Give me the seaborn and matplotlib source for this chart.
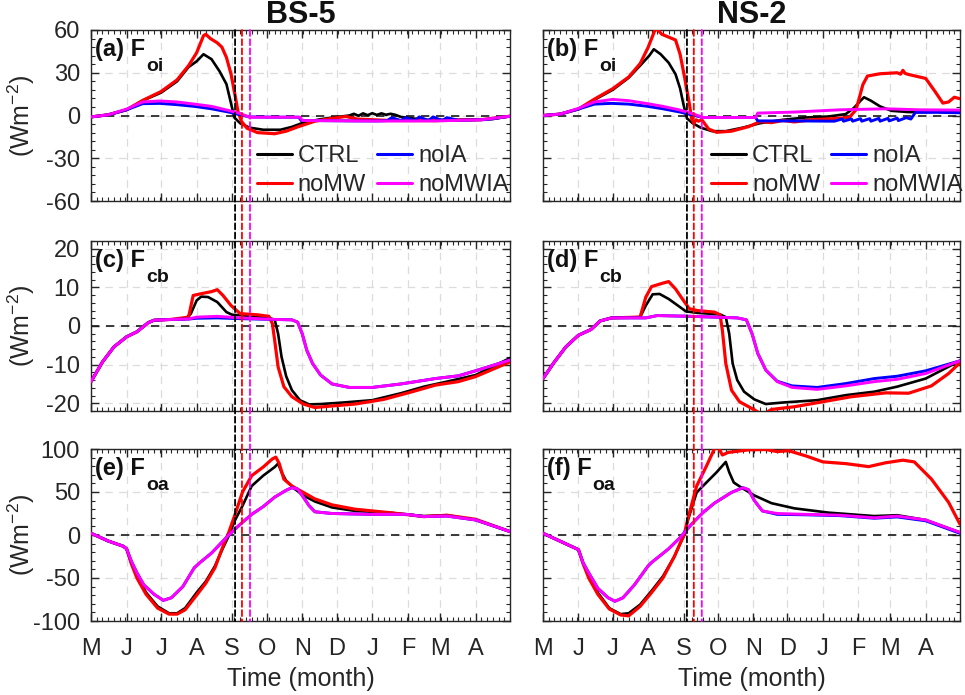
import numpy as np
import pandas as pd
import matplotlib
matplotlib.use("Agg")
import matplotlib.pyplot as plt
from matplotlib.patches import ConnectionPatch
from matplotlib.lines import Line2D
from matplotlib.ticker import MultipleLocator, FixedLocator
import seaborn as sns

# ---------------- data (days since 1 May) ----------------
month_ticks = [0, 31, 61, 92, 123, 153, 184, 214, 245, 276, 304, 335]
month_labels = ["M", "J", "J", "A", "S", "O", "N", "D", "J", "F", "M", "A"]
series_names = ["CTRL", "noMW", "noIA", "noMWIA"]
series_colors = ["#000000", "#ff0000", "#0000ff", "#ff00ff"]
column_titles = ["BS-5", "NS-2"]
panel_main = ["(a) F", "(b) F", "(c) F", "(d) F", "(e) F", "(f) F"]
panel_sub = ["oi", "oi", "cb", "cb", "oa", "oa"]
vline_days_left = [125.5, 131.5, 138.5]
vline_days_right = [126.0, 132.0, 139.0]
vline_colors = ["#000000", "#ff0000", "#ff00ff"]

# ---- (a) F_oi BS-5
a_ctrl_d = [0, 15, 31, 45, 61, 75, 85, 92, 98, 105, 112, 118, 123, 125, 130, 138, 150, 165, 175, 185, 200, 215, 225, 229, 233, 237, 241, 245, 249, 253, 257, 261, 265, 270, 275, 290, 320, 350, 365]
a_ctrl_v = [-1, 0.5, 4, 10.4, 16, 24, 34, 38, 43, 39.5, 31, 22, 5, -1.5, -5.5, -8.5, -10, -10, -8, -5, -2.6, -1, 0, 1.2, -0.2, 1.5, 0.2, 1.6, 0.4, 1.5, 0.5, 1.2, 0.5, -1, -1.5, -3, -3, -2.5, -0.5]
a_nomw_d = [0, 15, 31, 45, 61, 75, 85, 92, 98, 100, 104, 110, 114, 118, 122, 126, 128, 131, 136, 145, 160, 170, 180, 195, 210, 222, 232, 260, 300, 340, 365]
a_nomw_v = [-1, 0.5, 4, 10.6, 16.8, 25, 35, 44, 56, 57, 54, 51, 48, 40.7, 29, 12, 3, -4, -9, -12, -12.8, -11, -8, -4, -2, -0.7, -2.5, -3.5, -3.6, -3, -0.5]
a_noia_d = [0, 15, 31, 45, 60, 75, 90, 105, 120, 130, 138, 160, 181, 183, 200, 230, 250, 258, 262, 270, 274, 282, 286, 294, 298, 306, 310, 320, 330, 345, 365]
a_noia_v = [-1, 0.5, 4, 8.3, 8.5, 7.6, 6.4, 4.7, 2.4, 0.5, -1, -1.2, -1.2, -3.5, -3.6, -3.8, -3.8, -3.6, -1.5, -3.6, -1.5, -3.6, -1.0, -3.6, -1.0, -3.6, -1.5, -3.4, -3.2, -2.8, -0.5]
a_nomwia_d = [0, 15, 31, 45, 60, 75, 90, 105, 120, 130, 138, 160, 182, 184, 200, 250, 300, 340, 365]
a_nomwia_v = [-1, 0.5, 4.5, 9.5, 10.2, 9.5, 8, 6.4, 3.5, 1.4, -1.2, -1.2, -1.2, -3.5, -3.6, -3.9, -3.8, -3.0, -0.5]

# ---- (b) F_oi NS-2
b_ctrl_d = [0, 15, 31, 45, 61, 75, 85, 93, 97, 103, 110, 116, 120, 123, 126, 131, 138, 148, 160, 175, 190, 210, 230, 250, 265, 272, 278, 281, 287, 295, 305, 320, 335, 350, 365]
b_ctrl_v = [0, 1, 4.5, 11, 18, 26.5, 35, 42, 46.5, 43, 37, 29, 19, 7.6, -2, -5.4, -8.5, -11, -11, -8.5, -5.4, -3, -1.4, -0.7, 1, 5.2, 10.4, 12.8, 10.4, 6.4, 3.3, 2.4, 2.4, 3.0, 3.5]
b_nomw_d = [0, 15, 31, 45, 61, 75, 85, 92, 98, 100, 104, 110, 116, 120, 124, 128, 130, 132, 134, 136, 139, 145, 152, 165, 180, 190, 200, 210, 220, 235, 250, 268, 274, 280, 284, 295, 310, 313, 315, 317, 320, 335, 343, 350, 355, 360, 365]
b_nomw_v = [0, 1, 4.5, 11.5, 18.8, 27, 36.4, 47.8, 60, 60.5, 57, 55, 53, 43, 26.5, 8.7, -2, -5.4, -3, -4, -3, -9.5, -11.8, -11, -7.8, -4.3, -5, -3.5, -4.5, -3, -2.4, -1.4, 4, 21.7, 27.7, 29.3, 30, 29, 31.7, 29.5, 28.8, 26, 17, 8.7, 9.5, 12.8, 11.8]
b_noia_d = [0, 15, 31, 45, 60, 75, 90, 105, 120, 130, 140, 186, 188, 220, 255, 262, 263, 270, 271, 278, 279, 286, 287, 294, 295, 302, 303, 310, 311, 318, 322, 326, 345, 365]
b_noia_v = [0, 1, 4.5, 8, 8.5, 8, 6.6, 4.7, 2.4, 0.5, -1.4, -1.4, -3.8, -3.8, -4.0, -2.4, -4.0, -2.4, -4.0, -2.2, -4.0, -2.2, -4.0, -2.0, -4.0, -2.0, -3.8, -1.8, -3.6, -1.5, -2.5, 2.2, 2.2, 1.9]
b_nomwia_d = [0, 15, 31, 45, 61, 75, 90, 105, 120, 132, 140, 186, 188, 220, 260, 300, 330, 365]
b_nomwia_v = [0, 1, 5, 9.5, 11.3, 10.4, 8.5, 6.4, 3.8, 1, -1.4, -1.4, 1.7, 2.4, 4, 4.7, 4.0, 3.8]

# ---- (c) F_cb BS-5
c_ctrl_d = [0, 10, 20, 31, 40, 45, 50, 55, 70, 82, 87, 92, 96, 102, 110, 118, 123, 140, 155, 160, 163, 166, 170, 175, 182, 190, 200, 220, 245, 270, 290, 310, 335, 365]
c_ctrl_v = [-14.4, -9.3, -5.4, -2.8, -1.5, -0.3, 0.9, 1.5, 1.7, 1.8, 3.2, 6.6, 7.6, 7.5, 6.2, 3.6, 2.9, 2.6, 2.1, 1.6, -2, -8, -13, -16.6, -19.2, -20.3, -20.2, -19.8, -19.2, -17.4, -15.7, -14.4, -12.7, -8.3]
c_nomw_d = [0, 10, 20, 31, 40, 45, 50, 55, 70, 85, 89, 95, 105, 110, 115, 122, 130, 145, 155, 158, 160, 163, 168, 175, 185, 195, 210, 230, 255, 280, 300, 320, 335, 365]
c_nomw_v = [-14.4, -9.3, -5.4, -2.8, -1.5, -0.3, 0.9, 1.5, 1.7, 2.3, 7.9, 8.3, 8.9, 9.4, 7.9, 5.3, 3.2, 2.9, 2.5, 0.6, -3.7, -10.6, -15.7, -18.3, -20.2, -21.1, -20.7, -20.2, -19, -17, -15.3, -14.4, -13.1, -9.3]
c_noia_d = [0, 10, 20, 31, 40, 45, 50, 55, 70, 85, 92, 110, 130, 160, 175, 180, 184, 188, 193, 200, 210, 225, 245, 270, 300, 320, 335, 365]
c_noia_v = [-14.4, -9.3, -5.4, -2.8, -1.5, -0.3, 0.9, 1.5, 1.7, 1.8, 2.0, 2.1, 1.9, 1.7, 1.6, 1.0, -2, -6.3, -9.7, -12.7, -15, -15.9, -15.9, -15, -13.6, -12.9, -11.6, -8.8]
c_nomwia_d = [0, 10, 20, 31, 40, 45, 50, 55, 70, 85, 92, 110, 130, 160, 175, 180, 184, 188, 193, 200, 210, 225, 245, 270, 300, 320, 335, 365]
c_nomwia_v = [-14.4, -9.3, -5.4, -2.8, -1.5, -0.3, 0.9, 1.5, 1.7, 1.8, 2.3, 2.5, 2.1, 1.7, 1.6, 1.0, -2, -6.3, -9.7, -12.7, -15, -15.9, -15.9, -15, -13.6, -12.9, -11.6, -8.8]

# ---- (d) F_cb NS-2
d_ctrl_d = [0, 10, 20, 31, 42, 50, 60, 85, 90, 96, 102, 110, 118, 125, 135, 155, 160, 163, 166, 170, 176, 185, 195, 210, 240, 265, 290, 310, 335, 365]
d_ctrl_v = [-13.6, -9.3, -5.4, -2.4, -0.9, 1.3, 2.1, 2.3, 5.3, 8.2, 8.3, 7, 5.3, 3.8, 3.4, 3, 2.3, -2, -9.7, -14, -17, -19, -20.2, -19.8, -19.2, -17.9, -17, -15.7, -13.6, -9]
d_nomw_d = [0, 10, 20, 31, 42, 50, 60, 85, 90, 95, 105, 110, 116, 122, 128, 135, 150, 155, 157, 160, 165, 172, 185, 192, 200, 220, 245, 270, 300, 320, 340, 355, 365]
d_nomw_v = [-13.6, -9.3, -5.4, -2.4, -0.9, 1.3, 2.1, 2.3, 7.5, 10.2, 11.1, 11.5, 9.6, 7, 4.5, 4, 3.6, 2.9, -1.1, -9.7, -16.6, -19.6, -21.7, -23, -21.6, -20.9, -19.6, -18.3, -17.3, -17.4, -15.5, -12.3, -9.5]
d_noia_d = [0, 10, 20, 31, 42, 50, 60, 90, 100, 130, 170, 178, 183, 188, 195, 205, 218, 240, 265, 290, 310, 335, 365]
d_noia_v = [-13.6, -9.3, -5.4, -2.4, -0.9, 1.3, 2.1, 2.1, 2.7, 2.5, 2.1, 1.6, -2, -7.1, -11.4, -14.3, -15.5, -15.9, -14.9, -13.6, -13.0, -11.6, -9]
d_nomwia_d = [0, 10, 20, 31, 42, 50, 60, 90, 100, 130, 170, 178, 183, 188, 195, 205, 218, 240, 265, 290, 310, 335, 365]
d_nomwia_v = [-13.6, -9.3, -5.4, -2.4, -0.9, 1.3, 2.1, 2.1, 2.7, 2.5, 2.1, 1.6, -2, -7.1, -11.4, -14.4, -15.9, -16.4, -15.5, -14.4, -13.8, -12.3, -9]

# ---- (e) F_oa BS-5
e_ctrl_d = [0, 15, 28, 31, 35, 40, 48, 58, 68, 75, 82, 92, 100, 108, 115, 120, 125, 132, 140, 150, 160, 163, 166, 170, 178, 185, 195, 210, 230, 260, 290, 310, 335, 365]
e_ctrl_v = [2, -7, -13, -16, -32, -48, -67, -83, -91, -91, -85, -67, -54, -36, -15, -1, 16, 34, 57, 69, 79, 83, 73, 63, 53, 46, 39, 32, 28, 26, 22, 23, 17.5, 4]
e_nomw_d = [0, 15, 28, 31, 35, 40, 48, 58, 68, 75, 82, 92, 100, 108, 115, 120, 125, 132, 140, 150, 158, 161, 164, 168, 175, 185, 195, 210, 230, 260, 290, 310, 335, 365]
e_nomw_v = [2, -7, -13, -16, -33, -50, -69, -85, -92, -92, -87, -70, -56, -38, -13, 3, 22, 50, 69, 79, 88.5, 90.5, 83, 65, 57, 49.5, 42, 35, 30, 26, 21.4, 23, 18.3, 4]
e_noia_d = [0, 15, 28, 31, 35, 40, 46, 55, 63, 70, 80, 90, 95, 105, 115, 120, 130, 140, 150, 160, 170, 175, 180, 185, 190, 195, 210, 245, 275, 290, 310, 335, 365]
e_noia_v = [2, -7, -13, -16, -30, -44, -58, -69, -76, -73, -60, -38, -32, -21, -7, 0, 12.5, 24, 33, 44, 52, 55, 53.4, 44, 34, 27, 25, 24, 24, 21.4, 22, 17.5, 4]
e_nomwia_d = [0, 15, 28, 31, 35, 40, 46, 55, 63, 70, 80, 90, 95, 105, 115, 120, 130, 140, 150, 160, 170, 175, 180, 185, 190, 195, 210, 245, 275, 290, 310, 335, 365]
e_nomwia_v = [2, -7, -13, -16, -30, -44, -58, -69, -76, -73, -60, -38, -32, -21, -7, 0, 12.5, 24, 33, 44, 52, 55, 53.4, 44, 34, 27, 25, 24, 24, 21.4, 22, 17.5, 4]

# ---- (f) F_oa NS-2
f_ctrl_d = [0, 31, 35, 40, 48, 58, 68, 75, 85, 95, 105, 115, 120, 123.5, 127, 134.5, 143, 152, 160, 163, 167, 175, 185, 200, 220, 250, 290, 310, 335, 365]
f_ctrl_v = [2, -17, -32, -48, -67, -85, -92, -91, -81, -65, -48, -25, -10, 0, 18, 49.5, 61, 73, 85, 73, 61, 54, 46, 37, 31, 26, 22, 23, 17.5, 3]
f_nomw_d = [0, 31, 35, 40, 48, 58, 68, 75, 85, 95, 105, 115, 120, 123.5, 127, 134.5, 143, 150, 153, 157, 162, 180, 195, 205, 215, 230, 245, 265, 285, 300, 315, 325, 340, 355, 365]
f_nomw_v = [2, -17, -33, -50, -69, -86, -93, -94, -83, -67, -50, -25, -10, 0, 20, 57, 80, 100, 103, 93, 96, 99, 99.4, 97, 98, 92, 85, 83, 79.5, 84, 87, 85, 65, 38, 12.5]
f_noia_d = [0, 31, 35, 40, 48, 57, 63, 70, 80, 92, 95, 110, 120, 130, 140, 150, 165, 175, 180, 185, 192, 205, 230, 260, 290, 310, 335, 365]
f_noia_v = [2, -17, -32, -44, -62, -73, -77, -73, -58, -36, -32, -16, -3, 12.5, 26, 37, 49.5, 55, 52.6, 40, 28, 24, 23.5, 22.5, 19.5, 21, 16.5, 2]
f_nomwia_d = [0, 31, 35, 40, 48, 57, 63, 70, 80, 92, 95, 110, 120, 130, 140, 150, 165, 175, 180, 185, 192, 205, 230, 260, 290, 310, 335, 365]
f_nomwia_v = [2, -17, -32, -44, -62, -73, -77, -73, -58, -36, -32, -16, -3, 12.5, 26, 37, 49.5, 55, 52.6, 40, 28, 25, 24, 23, 20, 22, 17.5, 3]

panels = [
    [(a_ctrl_d, a_ctrl_v), (a_nomw_d, a_nomw_v), (a_noia_d, a_noia_v), (a_nomwia_d, a_nomwia_v)],
    [(b_ctrl_d, b_ctrl_v), (b_nomw_d, b_nomw_v), (b_noia_d, b_noia_v), (b_nomwia_d, b_nomwia_v)],
    [(c_ctrl_d, c_ctrl_v), (c_nomw_d, c_nomw_v), (c_noia_d, c_noia_v), (c_nomwia_d, c_nomwia_v)],
    [(d_ctrl_d, d_ctrl_v), (d_nomw_d, d_nomw_v), (d_noia_d, d_noia_v), (d_nomwia_d, d_nomwia_v)],
    [(e_ctrl_d, e_ctrl_v), (e_nomw_d, e_nomw_v), (e_noia_d, e_noia_v), (e_nomwia_d, e_nomwia_v)],
    [(f_ctrl_d, f_ctrl_v), (f_nomw_d, f_nomw_v), (f_noia_d, f_noia_v), (f_nomwia_d, f_nomwia_v)],
]
row_ylims = [(-60, 60), (-22, 22), (-100, 100)]
row_yticks = [[-60, -30, 0, 30, 60], [-20, -10, 0, 10, 20], [-100, -50, 0, 50, 100]]
row_minor = [6, 2, 10]

# ---------------- style ----------------
sns.set_theme(style="ticks")
plt.rcParams["font.family"] = ["Liberation Sans", "DejaVu Sans"]
plt.rcParams["mathtext.fontset"] = "custom"
plt.rcParams["mathtext.rm"] = "Liberation Sans"
plt.rcParams["mathtext.bf"] = "Liberation Sans:bold"
plt.rcParams["mathtext.default"] = "regular"
plt.rcParams["axes.unicode_minus"] = False
plt.rcParams["axes.edgecolor"] = "#262626"
plt.rcParams["axes.linewidth"] = 1.0

fig = plt.figure(figsize=(9.65, 6.95), dpi=100)
col_left = [91 / 965, 543 / 965]
col_width = [419 / 965, 417 / 965]
row_bottom = [1 - 201 / 695, 1 - 411 / 695, 1 - 621 / 695]
row_height = [171 / 695, 170 / 695, 172 / 695]
legend_x = [0.395, 0.402]

axes = {}
tick_fs = 17
label_fs = 18
txt_col = "#262626"
palette = dict(zip(series_names, series_colors))
lws = {"CTRL": 1.9, "noMW": 2.3, "noIA": 2.1, "noMWIA": 2.1}

for r in range(3):
    for c in range(2):
        idx = r * 2 + c
        ax = fig.add_axes([col_left[c], row_bottom[r], col_width[c], row_height[r]])
        axes[(r, c)] = ax
        rows = []
        for name, (dd, vv) in zip(series_names, panels[idx]):
            for x, y in zip(dd, vv):
                rows.append({"day": x, "value": y, "run": name})
        df = pd.DataFrame(rows)
        for name in series_names:
            sub = df[df["run"] == name]
            sns.lineplot(data=sub, x="day", y="value", color=palette[name],
                         lw=lws[name], estimator=None, sort=False, ax=ax,
                         legend=False, zorder=3)
        ax.axhline(0, color="k", ls=(0, (5, 4)), lw=1.2, zorder=2)
        ax.set_xlim(0, 365)
        ax.set_ylim(*row_ylims[r])
        ax.xaxis.set_major_locator(FixedLocator(month_ticks))
        ax.xaxis.set_minor_locator(MultipleLocator(5))
        ax.set_yticks(row_yticks[r])
        ax.yaxis.set_minor_locator(MultipleLocator(row_minor[r]))
        ax.grid(True, which="major", color="#dcdcdc", ls=(0, (6, 5)), lw=0.9, zorder=0)
        ax.tick_params(which="both", direction="in", top=True, right=True,
                       colors=txt_col, labelcolor=txt_col, labelsize=tick_fs)
        ax.tick_params(which="major", length=6, width=1.0)
        ax.tick_params(axis="x", which="major", pad=12)
        ax.tick_params(axis="y", which="major", pad=8)
        ax.tick_params(which="minor", length=3, width=0.8)
        ax.set_xlabel("")
        ax.set_ylabel("")
        if r < 2:
            ax.set_xticklabels([])
        else:
            ax.set_xticklabels(month_labels)
            ax.set_xlabel("Time (month)", fontsize=label_fs, color=txt_col, labelpad=5)
        if c == 1:
            ax.set_yticklabels([])
        else:
            ax.set_ylabel("(Wm$^{-2}$)", fontsize=label_fs, color=txt_col)
            ax.yaxis.set_label_coords((37 - 91) / 419, 0.5)
        t_main = ax.text(0.01, 0.955, panel_main[idx], transform=ax.transAxes,
                         ha="left", va="top", fontsize=17, fontweight="bold",
                         color="#111111", zorder=5)
        ax.annotate(panel_sub[idx], xy=(1.0, 0.12), xycoords=t_main,
                    xytext=(0.5, 0), textcoords="offset points",
                    ha="left", va="top", fontsize=14, fontweight="bold",
                    color="#111111", zorder=5)
        if r == 0:
            ax.set_title(column_titles[c], fontsize=22, fontweight="bold", pad=4,
                         color="#111111")
            handles = [Line2D([], [], color=palette[n], lw=2.2) for n in series_names]
            leg = ax.legend(handles, series_names, ncol=2, loc="lower left",
                            bbox_to_anchor=(legend_x[c], 0.03), frameon=False,
                            fontsize=tick_fs, handlelength=1.5, handletextpad=0.25,
                            columnspacing=0.45, labelspacing=0.3, borderaxespad=0.0,
                            borderpad=0.0)
            for t in leg.get_texts():
                t.set_color(txt_col)

# vertical dashed lines spanning the three panels of each column
for c, days in enumerate([vline_days_left, vline_days_right]):
    for d, col in zip(days, vline_colors):
        cp = ConnectionPatch(xyA=(d, 1), coordsA=axes[(0, c)].get_xaxis_transform(),
                             xyB=(d, 0), coordsB=axes[(2, c)].get_xaxis_transform(),
                             color=col, ls=(0, (3.3, 1.8)), lw=1.3, zorder=4)
        fig.add_artist(cp)

fig.savefig("out.png", dpi=100)
